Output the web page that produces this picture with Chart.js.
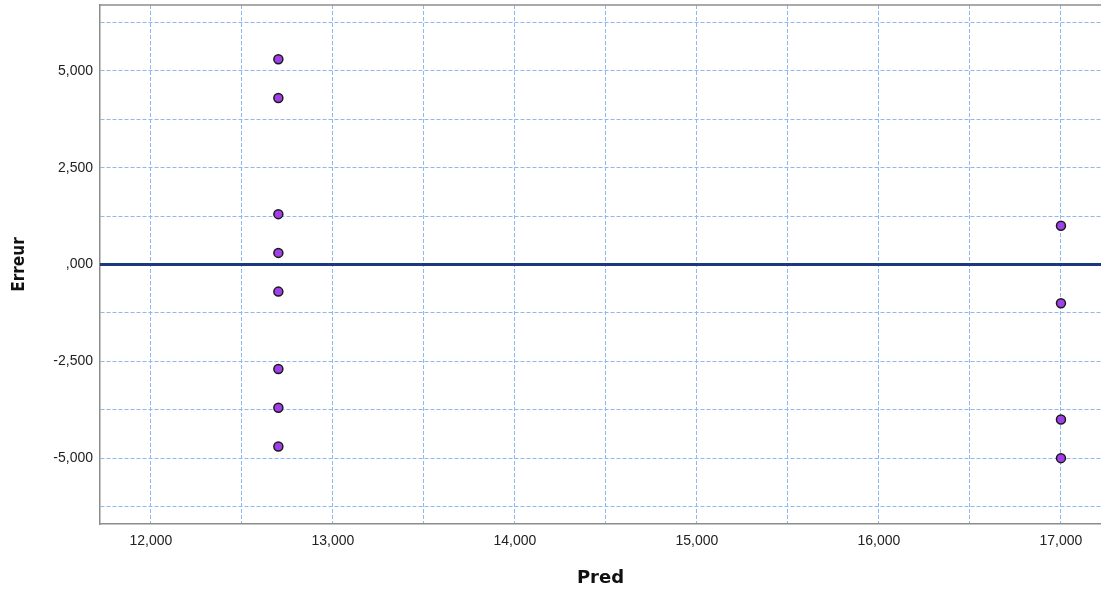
<!DOCTYPE html>
<html>
<head>
<meta charset="utf-8">
<script src="https://cdn.jsdelivr.net/npm/chart.js@4/dist/chart.umd.min.js"></script>
<style>
  body { margin: 0; background: #fff; }
  #wrap { width: 1101px; height: 590px; }
</style>
</head>
<body>
<div id="wrap"><canvas id="residChart" width="1101" height="590"></canvas></div>
<script>
// predicted values and residuals
const predValues = [12700, 12700, 12700, 12700, 12700, 12700, 12700, 12700, 17000, 17000, 17000, 17000];
const errValues = [5300, 4300, 1300, 300, -700, -2700, -3700, -4700, 1000, -1000, -4000, -5000];
const xRange = [11720, 17220];
const yRange = [-6700, 6700];
const refLineY = 0;
// grid positions (labels only on the round ones)
const xTickValues = [12000, 12500, 13000, 13500, 14000, 14500, 15000, 15500, 16000, 16500, 17000];
const yTickValues = [-6250, -5000, -3750, -2500, -1250, 0, 1250, 2500, 3750, 5000, 6250];

const points = predValues.map((p, i) => ({ x: p, y: errValues[i] }));

function fmt(v) {
    if (v === 0) return ',000';
    return v.toLocaleString('en-US');
}

const frameTop = {
    id: 'frameTop',
    afterDraw(chart) {
        const { ctx, chartArea } = chart;
        ctx.save();
        ctx.strokeStyle = '#8c8c8c';
        ctx.lineWidth = 1.5;
        ctx.beginPath();
        ctx.moveTo(chartArea.left, chartArea.top);
        ctx.lineTo(chartArea.right, chartArea.top);
        ctx.stroke();
        ctx.restore();
    }
};

const ctx = document.getElementById('residChart').getContext('2d');
new Chart(ctx, {
    type: 'scatter',
    data: {
        datasets: [{
            type: 'line',
            data: xRange.map(x => ({ x: x, y: refLineY })),
            borderColor: '#1b3a7c',
            borderWidth: 3,
            pointRadius: 0,
            order: 2
        }, {
            data: points,
            backgroundColor: '#a040e8',
            borderColor: '#1a1a1a',
            borderWidth: 1.5,
            pointRadius: 4.5,
            order: 1
        }]
    },
    options: {
        responsive: false,
        animation: false,
        layout: { autoPadding: false, padding: { top: 5, right: 0, left: 0, bottom: 0 } },
        plugins: {
            legend: { display: false },
            tooltip: { enabled: false }
        },
        scales: {
            x: {
                type: 'linear',
                min: xRange[0],
                max: xRange[1],
                afterBuildTicks: s => { s.ticks = xTickValues.map(v => ({ value: v })); },
                afterFit: s => { s.height = 66; s.paddingLeft = 0; s.paddingRight = 0; },
                ticks: {
                    padding: 9,
                    color: '#222',
                    font: { family: 'Liberation Sans', size: 14 },
                    maxRotation: 0,
                    autoSkip: false,
                    callback: v => (v % 1000 === 0 ? fmt(v) : '')
                },
                grid: {
                    color: '#8bbaf2',
                    lineWidth: 1,
                    drawTicks: false
                },
                border: { color: '#8c8c8c', width: 1.5, dash: [4, 2] },
                title: {
                    display: true,
                    text: 'Pred',
                    color: '#111',
                    font: { family: "'DejaVu Sans', sans-serif", size: 18, weight: 'bold' },
                    padding: { top: 10, bottom: 1 }
                }
            },
            y: {
                min: yRange[0],
                max: yRange[1],
                afterBuildTicks: s => { s.ticks = yTickValues.map(v => ({ value: v })); },
                afterFit: s => { s.width = 100; s.paddingTop = 0; s.paddingBottom = 0; },
                ticks: {
                    padding: 7,
                    color: '#222',
                    font: { family: 'Liberation Sans', size: 14 },
                    autoSkip: false,
                    callback: v => (v % 2500 === 0 ? fmt(v) : '')
                },
                grid: {
                    color: '#8bbaf2',
                    lineWidth: 1,
                    drawTicks: false
                },
                border: { color: '#8c8c8c', width: 1.5, dash: [4, 2] },
                title: {
                    display: true,
                    text: 'Erreur',
                    color: '#111',
                    font: { family: "'DejaVu Sans Condensed', 'Liberation Sans', sans-serif", size: 17, weight: 'bold' },
                    padding: { top: 9, bottom: 0 }
                }
            }
        }
    },
    plugins: [frameTop]
});
</script>
</body>
</html>
